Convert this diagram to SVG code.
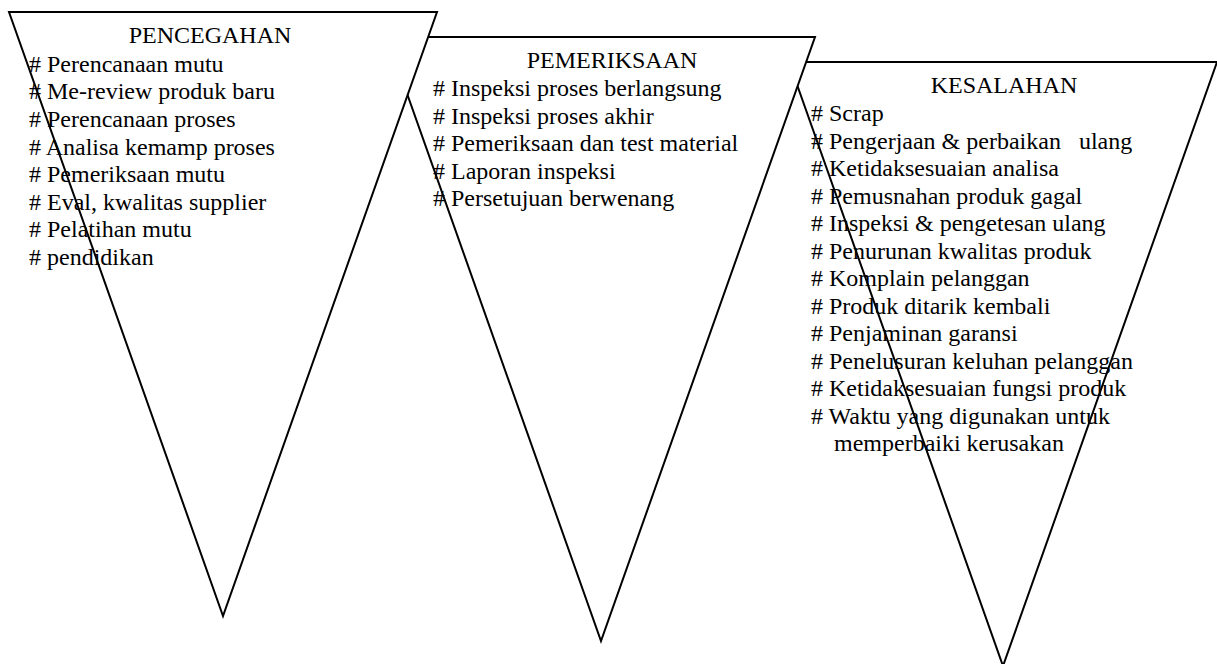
<svg xmlns="http://www.w3.org/2000/svg" width="1217" height="664" viewBox="0 0 1217 664">
<style>
.tri{fill:#ffffff;stroke:#000000;stroke-width:2;stroke-linejoin:miter}
text{font-family:"Liberation Serif","Times New Roman",serif;font-size:24px;fill:#000000}
.ttl{text-anchor:middle}
</style>
<rect width="1217" height="664" fill="#ffffff"/>
<g id="connectors"/>
<g id="kesalahan">
<polygon class="tri" points="789,62 1217,62 1003,666"/>
<text class="ttl" x="1004" y="93">KESALAHAN</text>
<text x="811" y="121"># Scrap</text>
<text x="811" y="148.5" xml:space="preserve"># Pengerjaan &amp; perbaikan   ulang</text>
<text x="811" y="176"># Ketidaksesuaian analisa</text>
<text x="811" y="203.5"># Pemusnahan produk gagal</text>
<text x="811" y="231"># Inspeksi &amp; pengetesan ulang</text>
<text x="811" y="258.5"># Penurunan kwalitas produk</text>
<text x="811" y="286"># Komplain pelanggan</text>
<text x="811" y="313.5"># Produk ditarik kembali</text>
<text x="811" y="341"># Penjaminan garansi</text>
<text x="811" y="368.5"># Penelusuran keluhan pelanggan</text>
<text x="811" y="396"># Ketidaksesuaian fungsi produk</text>
<text x="811" y="423.5"># Waktu yang digunakan untuk</text>
<text x="834" y="451">memperbaiki kerusakan</text>
</g>
<g id="pemeriksaan">
<polygon class="tri" points="387,37 815,37 601,641"/>
<text class="ttl" x="612" y="68">PEMERIKSAAN</text>
<text x="433" y="96"># Inspeksi proses berlangsung</text>
<text x="433" y="123.5"># Inspeksi proses akhir</text>
<text x="433" y="151"># Pemeriksaan dan test material</text>
<text x="433" y="178.5"># Laporan inspeksi</text>
<text x="433" y="206"># Persetujuan berwenang</text>
</g>
<g id="pencegahan">
<polygon class="tri" points="9,12 437,12 223,616"/>
<text class="ttl" x="210" y="43.3">PENCEGAHAN</text>
<text x="29" y="71.7"># Perencanaan mutu</text>
<text x="29" y="99.3"># Me-review produk baru</text>
<text x="29" y="126.9"># Perencanaan proses</text>
<text x="29" y="154.5"># Analisa kemamp proses</text>
<text x="29" y="182.1"># Pemeriksaan mutu</text>
<text x="29" y="209.7"># Eval, kwalitas supplier</text>
<text x="29" y="237.3"># Pelatihan mutu</text>
<text x="29" y="264.9"># pendidikan</text>
</g>
</svg>
